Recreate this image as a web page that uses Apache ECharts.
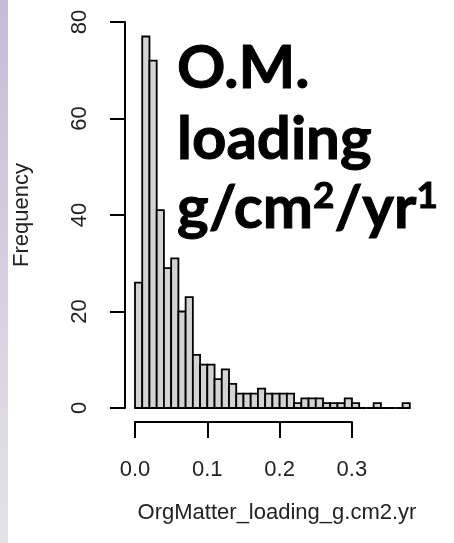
<!DOCTYPE html>
<html>
<head>
<meta charset="utf-8">
<script src="https://cdn.jsdelivr.net/npm/echarts@6/dist/echarts.min.js"></script>
<style>
  html, body { margin: 0; padding: 0; background: #fff; }
  #chart { width: 454px; height: 543px; }
</style>
</head>
<body>
<div id="chart"></div>
<script>
// histogram of OrgMatter_loading_g.cm2.yr, bins of 0.01
var binWidth = 0.01;
var counts = [26, 77, 72, 41, 29, 31, 20, 23, 11, 9,
              9, 6, 8, 5, 3, 3, 3, 4, 3, 3,
              3, 3, 1, 2, 2, 2, 1, 1, 1, 2,
              1, 0, 0, 1, 0, 0, 0, 1];
var xTicks = [0, 0.1, 0.2, 0.3];
var yTicks = [0, 20, 40, 60, 80];
var xTitle = 'OrgMatter_loading_g.cm2.yr';
var yTitle = 'Frequency';

var axisFont = 'Liberation Sans';
var bins = counts.map(function (c, i) {
  return [i * binWidth, (i + 1) * binWidth, c];
});

// 723.3 px per unit on x; y axis sits 10px left of the first bar
var pxPerUnit = 723.3;
var xPad = 10 / pxPerUnit;

var myChart = echarts.init(document.getElementById('chart'));
var option = {
  animation: false,
  backgroundColor: '#fff',
  grid: [
    { left: 125, top: 22, width: 284.8, height: 386 },
    // separate grid for the short R style x axis (0.0 .. 0.3)
    { left: 135, top: 400, width: 216.9, height: 22 }
  ],
  xAxis: [
    { type: 'value', gridIndex: 0, min: -xPad, max: counts.length * binWidth, show: false },
    {
      type: 'value', gridIndex: 1,
      min: xTicks[0], max: xTicks[xTicks.length - 1], interval: 0.1,
      axisLine: { show: true, onZero: false, lineStyle: { color: '#000', width: 2 } },
      axisTick: { show: true, length: 16, lineStyle: { color: '#000', width: 2 } },
      axisLabel: {
        margin: 37, fontSize: 22, fontFamily: axisFont, color: '#222',
        formatter: function (v) { return v.toFixed(1); }
      },
      splitLine: { show: false }
    }
  ],
  yAxis: [
    {
      type: 'value', gridIndex: 0,
      min: yTicks[0], max: yTicks[yTicks.length - 1], interval: 20,
      axisLine: { show: true, onZero: false, lineStyle: { color: '#000', width: 2 } },
      axisTick: { show: true, length: 15, lineStyle: { color: '#000', width: 2 } },
      axisLabel: { rotate: 90, margin: 34, fontSize: 22, fontFamily: axisFont, color: '#222' },
      splitLine: { show: false },
      name: yTitle,
      nameLocation: 'middle',
      nameRotate: 90,
      nameGap: 92,
      nameTextStyle: { fontSize: 22, fontFamily: axisFont, color: '#222' }
    },
    { type: 'value', gridIndex: 1, show: false, min: 0, max: 1 }
  ],
  series: [
    {
      type: 'custom',
      xAxisIndex: 0,
      yAxisIndex: 0,
      data: bins,
      renderItem: function (params, api) {
        var p0 = api.coord([api.value(0), 0]);
        var p1 = api.coord([api.value(1), api.value(2)]);
        return {
          type: 'rect',
          shape: { x: p0[0], y: p1[1], width: p1[0] - p0[0], height: p0[1] - p1[1] },
          style: { fill: '#d3d3d3', stroke: '#000', lineWidth: 1.8 }
        };
      }
    }
  ],
  graphic: [
    {
      type: 'rect', left: 0, top: 0, z: -1,
      shape: { width: 8, height: 543 },
      style: {
        fill: new echarts.graphic.LinearGradient(0, 0, 0, 1, [
          { offset: 0, color: '#c7bbd7' },
          { offset: 1, color: '#e3e3e7' }
        ])
      }
    },
    {
      type: 'text', x: 277, y: 513,
      style: {
        text: xTitle, fontSize: 22, fontFamily: axisFont, fill: '#222',
        align: 'center', verticalAlign: 'middle'
      }
    },
    {
      type: 'text', x: 177, y: 69,
      style: { text: 'O.M.', fontSize: 60, fontWeight: 'bold', fontFamily: 'Lato', fill: '#000', verticalAlign: 'middle', stroke: '#000', lineWidth: 1 }
    },
    {
      type: 'text', x: 177, y: 140,
      style: { text: 'loading', fontSize: 60, fontWeight: 'bold', fontFamily: 'Lato', fill: '#000', verticalAlign: 'middle', stroke: '#000', lineWidth: 1 }
    },
    {
      type: 'text', x: 177, y: 209,
      style: {
        text: 'g/cm{sup|2}/yr{sup|1}', fontSize: 60, fontWeight: 'bold', fontFamily: 'Lato', fill: '#000',
        verticalAlign: 'middle', stroke: '#000', lineWidth: 1,
        rich: {
          sup: { fontSize: 37, fontWeight: 'bold', fontFamily: 'Lato', fill: '#000', stroke: '#000', lineWidth: 1, padding: [0, 0, 25, 0] }
        }
      }
    }
  ]
};
myChart.setOption(option);
</script>
</body>
</html>
